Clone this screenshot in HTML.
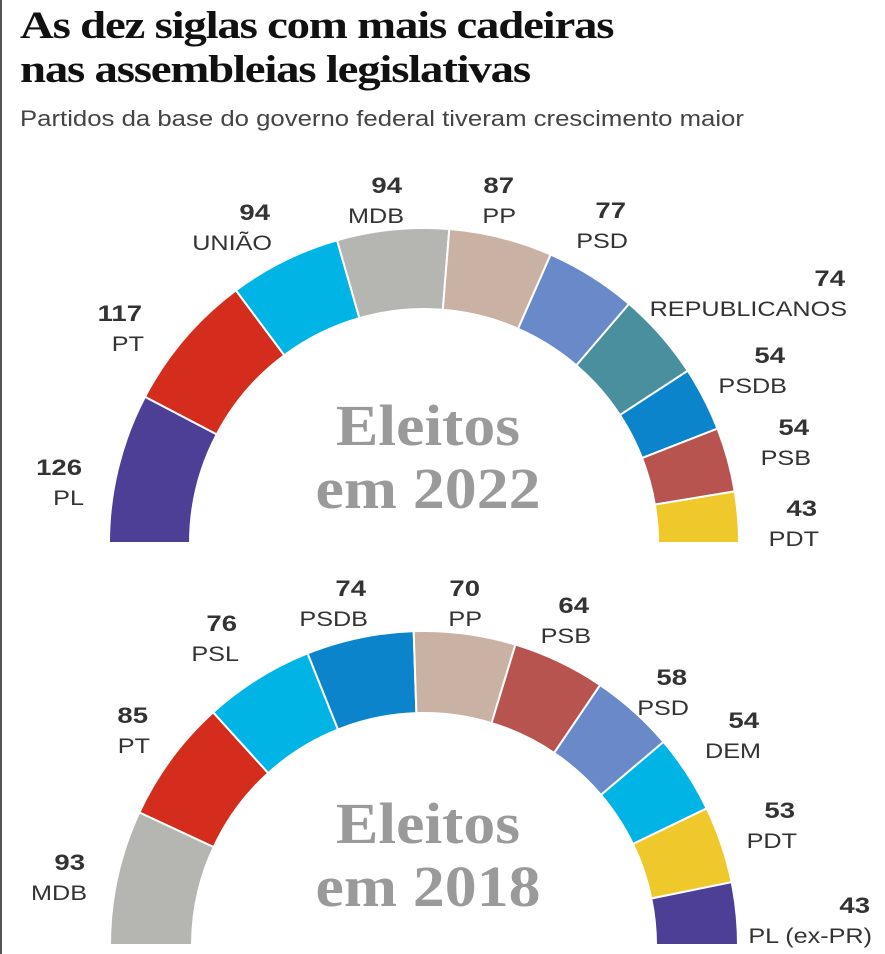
<!DOCTYPE html>
<html><head><meta charset="utf-8">
<style>
body{margin:0;background:#fff;}
#wrap{position:relative;width:885px;height:954px;overflow:hidden;background:#fff;border-left:2px solid #555;box-sizing:border-box;}
h1{position:absolute;left:18px;top:4px;margin:0;font:bold 39px/44px "Liberation Serif",serif;color:#111;letter-spacing:-1px;transform:scaleX(1.2);transform-origin:0 0;white-space:nowrap;}
.sub{position:absolute;left:18px;top:106px;font:22px "Liberation Sans",sans-serif;color:#444;transform:scaleX(1.17);transform-origin:0 0;white-space:nowrap;}
svg{position:absolute;left:0;top:0;}
</style></head><body>
<div id="wrap">
<h1>As dez siglas com mais cadeiras<br>nas assembleias legislativas</h1>
<div class="sub">Partidos da base do governo federal tiveram crescimento maior</div>
<svg id="svg" width="885" height="954"></svg>
</div>
<script>
const parties2022 = ["PL","PT","UNIÃO","MDB","PP","PSD","REPUBLICANOS","PSDB","PSB","PDT"];
const seats2022 = [126,117,94,94,87,77,74,54,54,43];
const colors2022 = ["#4d3f96","#d42d1e","#00b4e6","#b5b6b1","#c9b1a3","#6a89c9","#4a8f9d","#0b84cc","#b75450","#efc92b"];
const labelPos2022 = [[80,467],[140,313],[268,212],[400,185],[512,185],[624,210],[843,278],[783,355],[807,427],[815,508]];
const parties2018 = ["MDB","PT","PSL","PSDB","PP","PSB","PSD","DEM","PDT","PL (ex-PR)"];
const seats2018 = [93,85,76,74,70,64,58,54,53,43];
const colors2018 = ["#b5b6b1","#d42d1e","#00b4e6","#0b84cc","#c9b1a3","#b75450","#6a89c9","#00b4e6","#efc92b","#4d3f96"];
const labelPos2018 = [[83,862],[146,715],[235,623],[364,588],[478,588],[587,605],[685,677],[757,720],[793,810],[868,905]];
const NS="http://www.w3.org/2000/svg";
const svg=document.getElementById('svg');
function el(t,a){const e=document.createElementNS(NS,t);for(const k in a)e.setAttribute(k,a[k]);return e;}
function arc(cx,cy,R,r,a0,a1){
  const p=(rad,a)=>[cx+rad*Math.cos(a),cy-rad*Math.sin(a)];
  const [x0,y0]=p(R,a0),[x1,y1]=p(R,a1),[x2,y2]=p(r,a1),[x3,y3]=p(r,a0);
  return `M${x0},${y0}A${R},${R} 0 0 1 ${x1},${y1}L${x2},${y2}A${r},${r} 0 0 0 ${x3},${y3}Z`;
}
function hemi(names,vals,cols,lp,cx,cy,R,r,year,ty){
  const tot=vals.reduce((a,b)=>a+b,0);let a=Math.PI;
  vals.forEach((v,i)=>{
    const a1=a-v/tot*Math.PI;
    const pth=el('path',{d:arc(cx,cy,R,r,a,a1),fill:cols[i],stroke:'#fff','stroke-width':2});
    
    
    svg.appendChild(pth);a=a1;
    const n=el('text',{x:0,y:0,transform:`translate(${lp[i][0]},${lp[i][1]+8}) scale(1.25,1)`,'text-anchor':'end','font-family':'Liberation Sans, sans-serif','font-size':22,'font-weight':'bold',fill:'#333'});
    n.textContent=v;
    
    
    svg.appendChild(n);
    const t=el('text',{x:0,y:0,transform:`translate(${lp[i][0]+2},${lp[i][1]+38}) scale(1.2,1)`,'text-anchor':'end','font-family':'Liberation Sans, sans-serif','font-size':21,fill:'#333'});
    t.textContent=names[i];
    
    
    svg.appendChild(t);
  });
  ['Eleitos','em '+year].forEach((s,j)=>{
    const t=el('text',{x:0,y:0,transform:`translate(${cx+4},${ty+j*63}) scale(1.1,1)`,'text-anchor':'middle','font-family':'Liberation Serif, serif','font-size':58,'font-weight':'bold',fill:'#9a9a9a'});
    t.textContent=s;
    
    
    svg.appendChild(t);
  });
}
hemi(parties2022,seats2022,colors2022,labelPos2022,422,543,315,234,'2022',445);
hemi(parties2018,seats2018,colors2018,labelPos2018,422,945,314,232,'2018',843);
</script>
</body></html>
